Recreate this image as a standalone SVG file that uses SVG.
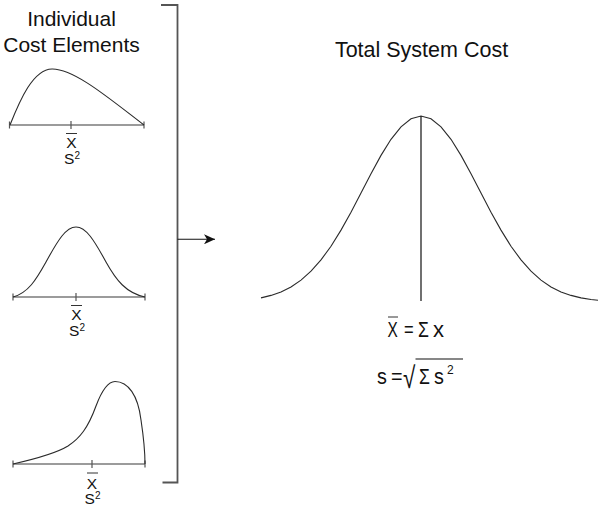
<svg xmlns="http://www.w3.org/2000/svg" width="600" height="506" viewBox="0 0 600 506">
<style>
text{font-family:"Liberation Sans",Arial,sans-serif;fill:#111}
.title{font-size:21px;text-anchor:middle}
.curve{fill:none;stroke:#2a2a2a;stroke-width:1.1}
.axis{fill:none;stroke:#7a7a7a;stroke-width:1.6}
.tick{stroke:#555;stroke-width:1.2}
.bar{stroke:#333;stroke-width:1}
.lbl{font-size:15.5px;text-anchor:middle}
.f{font-size:22px}
.br{fill:none;stroke:#555;stroke-width:1.8}
.conn{stroke:#111;stroke-width:1.1;fill:none}
</style>
<defs>
<marker id="ah" markerWidth="12" markerHeight="10" refX="11" refY="5" orient="auto" markerUnits="userSpaceOnUse">
<path d="M0,0 L11,5 L0,10 L3,5 Z" fill="#111"/>
</marker>
</defs>
<g id="title-individual">
<text class="title" x="71.5" y="26">Individual</text>
<text class="title" x="71.5" y="51.5">Cost Elements</text>
</g>
<g id="title-total">
<text class="title" x="421.5" y="56.5" style="font-size:21.5px">Total System Cost</text>
</g>
<g id="element1">
<path class="axis" d="M9.5,125 H144"/>
<path class="tick" d="M9.5,121.5 V128.5 M144,121.5 V128.5 M71,121 V129"/>
<path class="curve" d="M10,125 C20,100 33,69.5 52,69 C74,68.5 110,99 144,125"/>
<line class="bar" x1="66" y1="133.5" x2="77" y2="133.5"/>
<text class="lbl" x="71.5" y="148">X</text>
<text class="lbl" x="72" y="163.5">S<tspan font-size="10" dy="-5">2</tspan></text>
</g>
<g id="element2">
<path class="axis" d="M13,297 H145"/>
<path class="tick" d="M13,293.5 V300.5 M145,293.5 V300.5 M76,293 V301"/>
<path class="curve" d="M13,297 C28,293 36,280 46,262 C58,240 66,227 76,227 C86,227 94,240 106,262 C116,280 126,293 145,297"/>
<line class="bar" x1="71" y1="305.5" x2="82" y2="305.5"/>
<text class="lbl" x="76.5" y="320">X</text>
<text class="lbl" x="77" y="335.5">S<tspan font-size="10" dy="-5">2</tspan></text>
</g>
<g id="element3">
<path class="axis" d="M13,464 H145"/>
<path class="tick" d="M13,460.5 V467.5 M145,460.5 V467.5 M92,460 V468"/>
<path class="curve" d="M13,464 C35,459 55,454 68,446 C80,438 88,428 96,406 C102,390 108,381.5 115,381.5 C128,381.5 138,395 141,420 C144,440 145,455 145,464"/>
<line class="bar" x1="87" y1="473" x2="98" y2="473"/>
<text class="lbl" x="92" y="488.5">X</text>
<text class="lbl" x="92.5" y="504">S<tspan font-size="10" dy="-5">2</tspan></text>
</g>
<g id="total">
<polyline class="curve" points="261,297.9 271,295.4 281,291.9 291,286.9 301,280.1 311,271.2 321,259.9 331,246.2 341,230.1 351,212.2 361,193.1 371,173.7 381,155.4 391,139.3 401,126.8 411,118.8 421,116 431,118.8 441,126.8 451,139.3 461,155.4 471,173.7 481,193.1 491,212.2 501,230.1 511,246.2 521,259.9 531,271.2 541,280.1 551,286.9 561,291.9 571,295.4 581,297.9 591,299.5 598,300.2"/>
<line x1="421" y1="116" x2="421" y2="301" stroke="#111" stroke-width="1.2"/>
</g>
<g id="formula-mean">
<line class="bar" x1="388" y1="317" x2="398" y2="317"/>
<text class="f" transform="translate(387.5,337) scale(0.7,1)">X</text>
<text class="f" transform="translate(404,337) scale(0.75,1)">=</text>
<text class="f" transform="translate(418,337) scale(0.8,1)">Σ</text>
<text class="f" transform="translate(433,337) scale(1,1)">x</text>
</g>
<g id="formula-sd">
<text class="f" transform="translate(377,384) scale(0.9,1)">s</text>
<text class="f" transform="translate(391,384) scale(0.9,1)">=</text>
<text style="font-size:30px" transform="translate(403,388) scale(0.75,1)">√</text>
<line x1="415.5" y1="359" x2="463" y2="359" stroke="#111" stroke-width="1.1"/>
<text class="f" transform="translate(419,384) scale(0.8,1)">Σ</text>
<text class="f" transform="translate(434,384) scale(0.9,1)">s</text>
<text transform="translate(447,374)" style="font-size:12px">2</text>
</g>
<g id="connectors">
<path class="br" d="M161,5 H177.5 V482.5 H162.5"/>
<line class="conn" x1="177.5" y1="239.3" x2="215" y2="239.3" marker-end="url(#ah)"/>
</g>
</svg>
